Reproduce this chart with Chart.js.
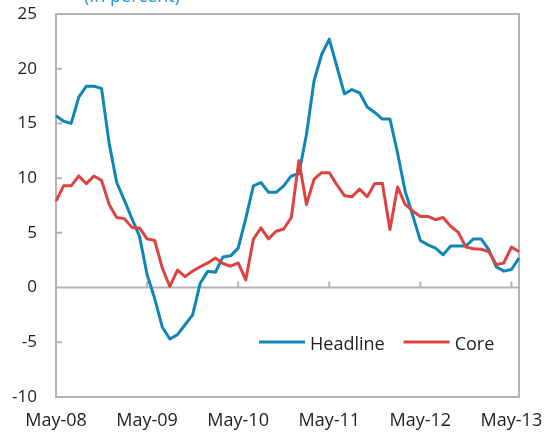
<!DOCTYPE html>
<html>
<head>
<meta charset="utf-8">
<script src="https://cdn.jsdelivr.net/npm/chart.js@4.4.1/dist/chart.umd.min.js"></script>
<style>
  html, body { margin: 0; padding: 0; background: #fff; }
  #wrap { width: 548px; height: 434px; }
</style>
</head>
<body>
<div id="wrap"><canvas id="inflationChart"></canvas></div>
<script>
// monthly categories, May-08 .. Jun-13
var months = [
    'May-08', 'Jun-08', 'Jul-08', 'Aug-08', 'Sep-08', 'Oct-08', 'Nov-08', 'Dec-08',
    'Jan-09', 'Feb-09', 'Mar-09', 'Apr-09', 'May-09', 'Jun-09', 'Jul-09', 'Aug-09', 'Sep-09', 'Oct-09', 'Nov-09', 'Dec-09',
    'Jan-10', 'Feb-10', 'Mar-10', 'Apr-10', 'May-10', 'Jun-10', 'Jul-10', 'Aug-10', 'Sep-10', 'Oct-10', 'Nov-10', 'Dec-10',
    'Jan-11', 'Feb-11', 'Mar-11', 'Apr-11', 'May-11', 'Jun-11', 'Jul-11', 'Aug-11', 'Sep-11', 'Oct-11', 'Nov-11', 'Dec-11',
    'Jan-12', 'Feb-12', 'Mar-12', 'Apr-12', 'May-12', 'Jun-12', 'Jul-12', 'Aug-12', 'Sep-12', 'Oct-12', 'Nov-12', 'Dec-12',
    'Jan-13', 'Feb-13', 'Mar-13', 'Apr-13', 'May-13', 'Jun-13'
];

// labels shown on the horizontal axis
var tickLabels = ['May-08', 'May-09', 'May-10', 'May-11', 'May-12', 'May-13'];

// y/y inflation, percent
var headline = [
    15.7, 15.2, 15.0, 17.4, 18.4, 18.4, 18.2, 13.2, 9.6, 8.0,
    6.3, 4.7, 1.2, -1.0, -3.6, -4.7, -4.3, -3.4, -2.5, 0.4,
    1.5, 1.4, 2.8, 2.9, 3.6, 6.3, 9.3, 9.6, 8.7, 8.7,
    9.3, 10.2, 10.4, 14.0, 18.9, 21.3, 22.7, 20.2, 17.7, 18.1,
    17.8, 16.5, 16.0, 15.4, 15.4, 12.3, 8.8, 6.6, 4.3, 3.9,
    3.6, 3.0, 3.8, 3.8, 3.8, 4.45, 4.45, 3.5, 1.9, 1.5,
    1.65, 2.7
];
var core = [
    7.9, 9.3, 9.3, 10.2, 9.5, 10.2, 9.8, 7.6, 6.4, 6.3,
    5.5, 5.45, 4.45, 4.3, 1.8, 0.1, 1.6, 1.0, 1.5, 1.9,
    2.25, 2.7, 2.2, 1.95, 2.25, 0.7, 4.4, 5.45, 4.45, 5.15,
    5.35, 6.4, 11.6, 7.6, 9.9, 10.5, 10.5, 9.4, 8.4, 8.3,
    9.0, 8.3, 9.5, 9.5, 5.3, 9.2, 7.6, 7.0, 6.5, 6.5,
    6.2, 6.4, 5.6, 5.05, 3.7, 3.55, 3.5, 3.3, 2.1, 2.25,
    3.7, 3.3
];

var yTicks = [-10, -5, 0, 5, 10, 15, 20, 25];

var frameColor = '#b3b3b3';
var inkColor = '#1e1e1e';
var fontFamily = '"Open Sans", "DejaVu Sans", sans-serif';

// box round the plot, zero line and the short tick marks
var framePlugin = {
    id: 'frame',
    beforeDatasetsDraw: function (chart) {
        var ctx = chart.ctx;
        var area = chart.chartArea;
        var xs = chart.scales.x;
        var ys = chart.scales.y;
        var y0 = ys.getPixelForValue(0);
        ctx.save();
        ctx.strokeStyle = frameColor;
        ctx.lineWidth = 2;
        ctx.beginPath();
        ctx.moveTo(area.left, y0);
        ctx.lineTo(area.right, y0);
        yTicks.forEach(function (v) {
            var py = ys.getPixelForValue(v);
            ctx.moveTo(area.left, py);
            ctx.lineTo(area.left + 6, py);
        });
        tickLabels.forEach(function (l) {
            var px = xs.getPixelForValue(months.indexOf(l));
            ctx.moveTo(px, y0);
            ctx.lineTo(px, y0 - 6);
        });
        ctx.stroke();
        ctx.strokeRect(area.left, area.top, area.right - area.left, area.bottom - area.top);
        ctx.restore();
    }
};

// legend inside the plot, lower right
var legendPlugin = {
    id: 'insideLegend',
    afterDraw: function (chart) {
        var ctx = chart.ctx;
        var area = chart.chartArea;
        var x = area.left + 203;
        var y = area.top + 328;
        ctx.save();
        ctx.font = '18px ' + fontFamily;
        ctx.textBaseline = 'middle';
        chart.data.datasets.forEach(function (ds) {
            ctx.strokeStyle = ds.borderColor;
            ctx.lineWidth = 3;
            ctx.beginPath();
            ctx.moveTo(x, y);
            ctx.lineTo(x + 46, y);
            ctx.stroke();
            ctx.fillStyle = inkColor;
            ctx.fillText(ds.label, x + 51, y + 3);
            x += 51 + ctx.measureText(ds.label).width + 19;
        });
        ctx.restore();
    }
};

// unit note above the plot
var unitPlugin = {
    id: 'unitNote',
    afterDraw: function (chart) {
        var ctx = chart.ctx;
        ctx.save();
        ctx.font = '18px ' + fontFamily;
        ctx.fillStyle = '#1b9ad6';
        ctx.textBaseline = 'alphabetic';
        ctx.fillText('(In percent)', 84, 2);
        ctx.restore();
    }
};

var ctx = document.getElementById('inflationChart').getContext('2d');
var myChart = new Chart(ctx, {
    type: 'line',
    data: {
        labels: months,
        datasets: [
            {
                label: 'Headline',
                data: headline,
                borderColor: '#0f86b5',
                borderWidth: 3,
                pointRadius: 0,
                tension: 0,
                borderJoinStyle: 'round',
                fill: false,
                order: 1
            },
            {
                label: 'Core',
                data: core,
                borderColor: '#db4441',
                borderWidth: 3,
                pointRadius: 0,
                tension: 0,
                borderJoinStyle: 'round',
                fill: false,
                order: 0
            }
        ]
    },
    options: {
        responsive: true,
        maintainAspectRatio: false,
        animation: false,
        layout: { padding: { top: 14, right: 29, left: 0, bottom: 0 } },
        plugins: {
            legend: { display: false },
            tooltip: { enabled: false }
        },
        scales: {
            x: {
                grid: { display: false, drawTicks: false },
                border: { display: false },
                ticks: {
                    autoSkip: false,
                    maxRotation: 0,
                    minRotation: 0,
                    padding: 13,
                    color: inkColor,
                    font: { family: fontFamily, size: 18 },
                    callback: function (value) {
                        var l = this.getLabelForValue(value);
                        return tickLabels.indexOf(l) >= 0 ? l : '';
                    }
                },
                afterFit: function (scale) {
                    scale.height = 37;
                    scale.paddingTop = 0;
                    scale.paddingBottom = 0;
                }
            },
            y: {
                min: -10,
                max: 25,
                grid: { display: false, drawTicks: false },
                border: { display: false },
                ticks: {
                    stepSize: 5,
                    padding: 19,
                    color: inkColor,
                    font: { family: fontFamily, size: 17 }
                },
                afterFit: function (scale) {
                    scale.width = 56;
                    scale.paddingTop = 0;
                    scale.paddingBottom = 0;
                }
            }
        }
    },
    plugins: [framePlugin, legendPlugin, unitPlugin]
});
</script>
</body>
</html>
